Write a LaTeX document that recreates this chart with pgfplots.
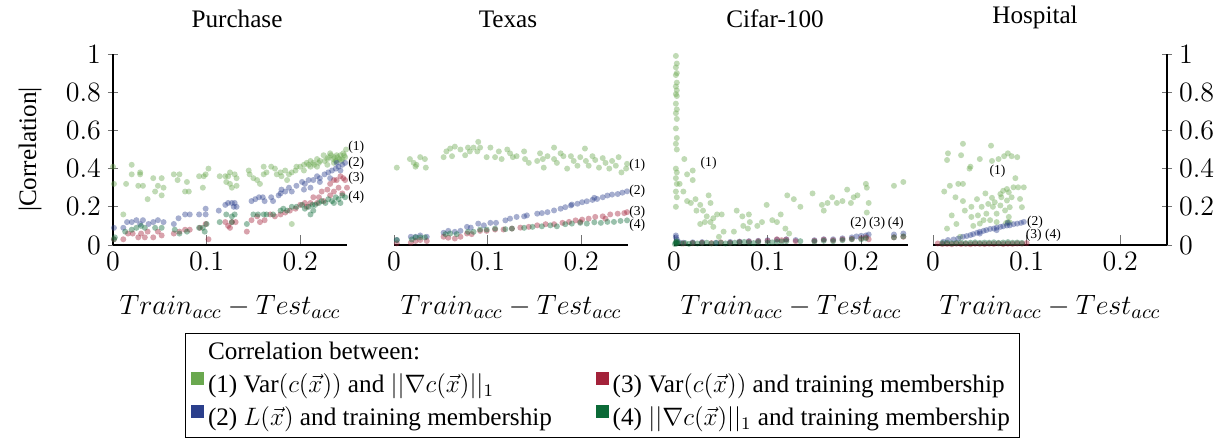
\documentclass[border=0pt]{standalone}
\usepackage{fix-cm}
\usepackage{pgfplots}
\pgfplotsset{compat=1.18}
\usepackage{fontspec}
\setmainfont{Liberation Serif}
\newcommand{\txtsize}{\fontsize{12.6}{15}\selectfont}
\newcommand{\ticksize}{\fontsize{14}{16.5}\selectfont}
\newcommand{\lblsize}{\fontsize{6.8}{8}\selectfont}
\definecolor{cA}{HTML}{6AA84F}
\definecolor{cB}{HTML}{2B3F8C}
\definecolor{cC}{HTML}{A3223A}
\definecolor{cD}{HTML}{0B6A37}
\pgfplotsset{
  dot/.style={only marks, mark=*, mark size=1.5pt, color=#1, mark options={draw opacity=0, line width=0pt, fill=#1, fill opacity=0.42}},
  panel/.style={
    scale only axis, width=117pt, height=95.5pt,
    xmin=0, xmax=0.25, ymin=0, ymax=1,
    xtick={0,0.1,0.2}, ytick={0,0.2,0.4,0.6,0.8,1},
    axis x line=bottom,
    tick align=inside, major tick length=5pt,
    major tick style={black!55, line width=0.4pt},
    tick label style={font=\ticksize},
    clip=false,
    title style={font=\txtsize, at={(axis description cs:0.5,1)}, anchor=base, yshift=7.5pt},
    xlabel={$Train_{acc}-Test_{acc}$},
    xlabel style={font=\ticksize, at={(axis description cs:0.5,0)}, anchor=center, yshift=-31pt},
  },
  noarrow/.style={axis line style={-, black, line width=0.7pt}, x axis line style={-}, y axis line style={-}},
}
\begin{document}
\begin{tikzpicture}
\path[use as bounding box] (0,0) rectangle (611pt,220pt);

% ---------------- Purchase ----------------
\begin{axis}[panel, at={(56.5pt,97.5pt)}, anchor=south west,
  axis y line=left, noarrow, title={Purchase},
  title style={xshift=3.5pt},
  ylabel={|Correlation|},
  ylabel style={font=\txtsize, at={(axis description cs:0,0.5)}, anchor=center, rotate=0, yshift=41.5pt}]
\addplot[dot=cA] coordinates {(0.001,0.32)(0,0.41)(0.011,0.16)(0.014,0.32)(0.02,0.42)(0.02,0.37)(0.029,0.38)(0.029,0.37)(0.027,0.31)(0.032,0.31)(0.037,0.24)(0.043,0.35)(0.045,0.28)(0.048,0.31)(0.052,0.35)(0.054,0.30)(0.052,0.26)(0.065,0.37)(0.071,0.37)(0.069,0.34)(0.077,0.28)(0.081,0.28)(0.079,0.33)(0.092,0.36)(0.097,0.36)(0.099,0.37)(0.102,0.40)(0.096,0.30)(0.114,0.36)(0.12,0.36)(0.123,0.36)(0.125,0.38)(0.13,0.37)(0.121,0.33)(0.125,0.32)(0.127,0.30)(0.132,0.31)(0.132,0.35)(0.145,0.39)(0.146,0.37)(0.15,0.35)(0.154,0.34)(0.157,0.32)(0.161,0.37)(0.161,0.41)(0.164,0.38)(0.169,0.41)(0.173,0.40)(0.175,0.37)(0.179,0.38)(0.18,0.36)(0.184,0.39)(0.188,0.37)(0.191,0.38)(0.195,0.39)(0.196,0.41)(0.2,0.41)(0.204,0.42)(0.207,0.43)(0.211,0.44)(0.214,0.43)(0.218,0.45)(0.221,0.44)(0.225,0.47)(0.229,0.45)(0.232,0.48)(0.236,0.46)(0.239,0.47)(0.243,0.47)(0.246,0.48)(0.249,0.50)(0.248,0.46)(0.236,0.43)(0.229,0.42)(0.239,0.44)(0.245,0.45)(0.218,0.41)(0.211,0.41)(0.204,0.39)(0.186,0.34)(0.191,0.11)(0.23,0.46)(0.235,0.45)(0.24,0.46)(0.242,0.45)(0.238,0.44)(0.244,0.44)(0.233,0.47)(0.247,0.47)(0.226,0.44)(0.22,0.43)(0.215,0.42)(0.209,0.42)};
\addplot[dot=cB] coordinates {(0.001,0.09)(0.011,0.09)(0.015,0.12)(0.02,0.12)(0.025,0.13)(0.029,0.11)(0.032,0.13)(0.038,0.11)(0.043,0.12)(0.048,0.13)(0.054,0.12)(0.065,0.11)(0.07,0.14)(0.077,0.16)(0.082,0.16)(0.092,0.16)(0.099,0.19)(0.099,0.16)(0.113,0.18)(0.12,0.21)(0.123,0.22)(0.127,0.22)(0.13,0.22)(0.132,0.20)(0.129,0.20)(0.148,0.23)(0.152,0.24)(0.156,0.25)(0.16,0.25)(0.162,0.23)(0.169,0.25)(0.177,0.26)(0.18,0.29)(0.184,0.28)(0.188,0.30)(0.191,0.28)(0.196,0.31)(0.202,0.33)(0.205,0.32)(0.209,0.34)(0.214,0.34)(0.218,0.36)(0.221,0.35)(0.226,0.37)(0.23,0.38)(0.234,0.39)(0.238,0.40)(0.241,0.41)(0.245,0.42)(0.248,0.43)(0.239,0.43)(0.243,0.39)(0.232,0.35)(0.221,0.33)(0.211,0.30)(0.204,0.29)(0.179,0.27)(0.171,0.23)};
\addplot[dot=cC] coordinates {(0.001,0.03)(0.011,0.03)(0.016,0.06)(0.021,0.06)(0.027,0.04)(0.03,0.06)(0.034,0.04)(0.037,0.07)(0.043,0.04)(0.048,0.07)(0.052,0.05)(0.065,0.06)(0.071,0.07)(0.077,0.08)(0.082,0.08)(0.093,0.09)(0.099,0.11)(0.102,0.03)(0.12,0.12)(0.123,0.10)(0.127,0.12)(0.131,0.12)(0.125,0.09)(0.143,0.07)(0.148,0.13)(0.154,0.15)(0.157,0.12)(0.162,0.13)(0.168,0.16)(0.173,0.15)(0.179,0.16)(0.184,0.17)(0.189,0.18)(0.195,0.19)(0.2,0.21)(0.205,0.22)(0.211,0.22)(0.214,0.25)(0.22,0.25)(0.223,0.28)(0.229,0.29)(0.232,0.32)(0.236,0.34)(0.239,0.34)(0.243,0.36)(0.246,0.35)(0.248,0.34)(0.241,0.30)(0.236,0.28)(0.232,0.26)(0.245,0.27)(0.225,0.23)(0.218,0.22)(0.207,0.20)(0.25,0.30)};
\addplot[dot=cD] coordinates {(0.001,0.03)(0.002,0.04)(0.013,0.07)(0.02,0.08)(0.025,0.09)(0.03,0.10)(0.034,0.09)(0.045,0.09)(0.052,0.09)(0.066,0.08)(0.071,0.06)(0.079,0.07)(0.092,0.09)(0.096,0.09)(0.098,0.07)(0.1,0.11)(0.114,0.12)(0.121,0.16)(0.127,0.15)(0.13,0.16)(0.127,0.12)(0.143,0.11)(0.15,0.16)(0.155,0.16)(0.161,0.16)(0.164,0.16)(0.171,0.16)(0.179,0.18)(0.182,0.19)(0.186,0.18)(0.191,0.20)(0.196,0.20)(0.202,0.21)(0.205,0.19)(0.209,0.20)(0.213,0.21)(0.216,0.21)(0.22,0.22)(0.223,0.23)(0.227,0.22)(0.23,0.24)(0.234,0.23)(0.238,0.25)(0.241,0.24)(0.245,0.26)(0.248,0.25)(0.214,0.18)(0.236,0.22)(0.243,0.22)(0.211,0.16)};
\node[font=\lblsize, anchor=west, inner sep=0.5pt] at (axis cs:0.25,0.51) {(1)};
\node[font=\lblsize, anchor=west, inner sep=0.5pt] at (axis cs:0.25,0.43) {(2)};
\node[font=\lblsize, anchor=west, inner sep=0.5pt] at (axis cs:0.25,0.35) {(3)};
\node[font=\lblsize, anchor=west, inner sep=0.5pt] at (axis cs:0.25,0.25) {(4)};
\end{axis}

% ---------------- Texas ----------------
\begin{axis}[panel, at={(197pt,97.5pt)}, anchor=south west,
  axis y line=none, noarrow, title={Texas}, title style={xshift=-1.5pt}]
\addplot[dot=cA] coordinates {(0.003,0.405)(0.017,0.45)(0.021,0.43)(0.023,0.41)(0.024,0.42)(0.028,0.46)(0.033,0.45)(0.034,0.405)(0.053,0.46)(0.056,0.49)(0.06,0.505)(0.062,0.465)(0.065,0.515)(0.071,0.50)(0.076,0.47)(0.079,0.51)(0.081,0.49)(0.085,0.51)(0.09,0.54)(0.089,0.49)(0.092,0.51)(0.099,0.46)(0.103,0.51)(0.108,0.46)(0.112,0.49)(0.115,0.45)(0.121,0.50)(0.124,0.48)(0.127,0.46)(0.131,0.465)(0.139,0.49)(0.14,0.45)(0.144,0.43)(0.156,0.48)(0.159,0.45)(0.16,0.405)(0.164,0.465)(0.171,0.45)(0.174,0.43)(0.181,0.465)(0.185,0.40)(0.189,0.465)(0.192,0.44)(0.196,0.415)(0.199,0.46)(0.204,0.505)(0.205,0.44)(0.208,0.415)(0.212,0.465)(0.215,0.445)(0.219,0.405)(0.223,0.455)(0.226,0.43)(0.23,0.40)(0.233,0.44)(0.237,0.415)(0.24,0.46)(0.243,0.38)(0.248,0.40)(0.249,0.425)(0.171,0.51)(0.178,0.48)(0.153,0.44)};
\addplot[dot=cB] coordinates {(0.003,0.026)(0.018,0.043)(0.023,0.043)(0.028,0.05)(0.035,0.043)(0.053,0.064)(0.058,0.074)(0.065,0.069)(0.071,0.074)(0.078,0.095)(0.082,0.091)(0.09,0.112)(0.096,0.103)(0.103,0.116)(0.109,0.116)(0.119,0.129)(0.124,0.138)(0.131,0.147)(0.139,0.15)(0.142,0.155)(0.153,0.164)(0.158,0.167)(0.164,0.172)(0.171,0.181)(0.178,0.19)(0.183,0.198)(0.189,0.207)(0.196,0.216)(0.201,0.224)(0.206,0.229)(0.212,0.236)(0.217,0.241)(0.223,0.25)(0.228,0.259)(0.233,0.264)(0.239,0.267)(0.244,0.274)(0.249,0.281)(0.19,0.212)(0.214,0.247)};
\addplot[dot=cC] coordinates {(0.003,0.009)(0.018,0.012)(0.023,0.021)(0.028,0.026)(0.035,0.021)(0.053,0.043)(0.058,0.038)(0.065,0.034)(0.071,0.043)(0.078,0.06)(0.083,0.057)(0.092,0.074)(0.099,0.074)(0.108,0.081)(0.117,0.081)(0.126,0.086)(0.135,0.091)(0.144,0.095)(0.153,0.103)(0.162,0.109)(0.171,0.109)(0.18,0.116)(0.187,0.121)(0.194,0.129)(0.201,0.133)(0.208,0.138)(0.215,0.147)(0.223,0.15)(0.231,0.16)(0.239,0.164)(0.246,0.167)(0.249,0.172)(0.199,0.121)(0.226,0.138)};
\addplot[dot=cD] coordinates {(0.003,0.026)(0.019,0.029)(0.023,0.04)(0.028,0.04)(0.033,0.04)(0.055,0.057)(0.06,0.06)(0.067,0.057)(0.079,0.069)(0.085,0.069)(0.092,0.081)(0.099,0.081)(0.108,0.086)(0.119,0.083)(0.126,0.086)(0.139,0.09)(0.148,0.095)(0.158,0.098)(0.167,0.103)(0.174,0.098)(0.183,0.109)(0.19,0.112)(0.199,0.116)(0.206,0.112)(0.214,0.119)(0.221,0.116)(0.228,0.121)(0.235,0.121)(0.242,0.126)(0.249,0.129)};
\node[font=\lblsize, anchor=west, inner sep=0.5pt] at (axis cs:0.25,0.42) {(1)};
\node[font=\lblsize, anchor=west, inner sep=0.5pt] at (axis cs:0.25,0.28) {(2)};
\node[font=\lblsize, anchor=west, inner sep=0.5pt] at (axis cs:0.25,0.17) {(3)};
\node[font=\lblsize, anchor=west, inner sep=0.5pt] at (axis cs:0.25,0.105) {(4)};
\end{axis}

% ---------------- Cifar-100 ----------------
\begin{axis}[panel, at={(337pt,97.5pt)}, anchor=south west,
  axis y line=none, noarrow, title={Cifar-100}, title style={xshift=-8pt}]
\addplot[dot=cA] coordinates {(0.002,0.99)(0.003,0.95)(0.002,0.93)(0.003,0.90)(0.002,0.89)(0.003,0.85)(0.002,0.83)(0.003,0.81)(0.002,0.79)(0.003,0.78)(0.002,0.74)(0.003,0.71)(0.002,0.69)(0.003,0.66)(0.002,0.61)(0.003,0.56)(0.002,0.53)(0.003,0.50)(0.002,0.40)(0.003,0.38)(0.002,0.35)(0.003,0.32)(0.002,0.28)(0.003,0.25)(0.002,0.20)(0.011,0.45)(0.02,0.39)(0.014,0.37)(0.02,0.34)(0.006,0.32)(0.01,0.28)(0.014,0.23)(0.018,0.22)(0.023,0.24)(0.024,0.18)(0.028,0.21)(0.031,0.18)(0.037,0.26)(0.039,0.22)(0.035,0.15)(0.028,0.11)(0.033,0.12)(0.039,0.12)(0.042,0.14)(0.046,0.16)(0.051,0.16)(0.042,0.095)(0.053,0.07)(0.048,0.043)(0.064,0.07)(0.073,0.15)(0.079,0.086)(0.074,0.10)(0.081,0.12)(0.089,0.10)(0.094,0.12)(0.099,0.21)(0.105,0.13)(0.11,0.12)(0.114,0.16)(0.119,0.086)(0.123,0.06)(0.121,0.26)(0.128,0.24)(0.135,0.20)(0.148,0.27)(0.158,0.21)(0.16,0.18)(0.164,0.22)(0.169,0.25)(0.174,0.22)(0.18,0.23)(0.185,0.29)(0.189,0.22)(0.192,0.25)(0.196,0.26)(0.205,0.32)(0.206,0.30)(0.208,0.22)(0.206,0.17)(0.235,0.31)(0.245,0.33)(0.067,0.18)(0.08,0.16)};
\addplot[dot=cB] coordinates {(0.002,0.05)(0.002,0.04)(0.003,0.03)(0.005,0.015)(0.01,0.012)(0.02,0.014)(0.03,0.015)(0.045,0.012)(0.06,0.016)(0.07,0.018)(0.08,0.02)(0.09,0.022)(0.1,0.025)(0.11,0.028)(0.12,0.03)(0.13,0.026)(0.15,0.025)(0.16,0.03)(0.17,0.03)(0.18,0.035)(0.19,0.04)(0.195,0.045)(0.2,0.048)(0.205,0.05)(0.208,0.055)(0.235,0.055)(0.245,0.06)};
\addplot[dot=cC] coordinates {(0.003,0.01)(0.01,0.008)(0.02,0.01)(0.03,0.012)(0.04,0.01)(0.05,0.014)(0.06,0.012)(0.07,0.016)(0.08,0.018)(0.09,0.02)(0.1,0.022)(0.11,0.03)(0.115,0.025)(0.12,0.028)(0.13,0.02)(0.15,0.022)(0.16,0.028)(0.17,0.025)(0.18,0.03)(0.19,0.032)(0.2,0.035)(0.205,0.04)(0.208,0.03)(0.235,0.04)(0.245,0.043)};
\addplot[dot=cD] coordinates {(0.001,0.005)(0.002,0.01)(0.002,0.015)(0.003,0.02)(0.003,0.008)(0.004,0.012)(0.008,0.008)(0.012,0.01)(0.016,0.006)(0.02,0.01)(0.025,0.008)(0.03,0.01)(0.035,0.012)(0.04,0.008)(0.045,0.01)(0.05,0.012)(0.055,0.008)(0.06,0.01)(0.065,0.012)(0.07,0.014)(0.075,0.016)(0.08,0.012)(0.085,0.01)(0.09,0.015)(0.1,0.012)(0.105,0.014)(0.11,0.016)(0.115,0.018)(0.12,0.02)(0.135,0.02)(0.15,0.018)(0.16,0.022)(0.17,0.02)(0.18,0.025)(0.19,0.03)(0.2,0.03)(0.205,0.035)(0.235,0.04)(0.245,0.045)};
\node[font=\lblsize, inner sep=0.5pt] at (axis cs:0.037,0.43) {(1)};
\node[font=\lblsize, inner sep=0.5pt] at (axis cs:0.197,0.115) {(2)};
\node[font=\lblsize, inner sep=0.5pt] at (axis cs:0.217,0.115) {(3)};
\node[font=\lblsize, inner sep=0.5pt] at (axis cs:0.237,0.115) {(4)};
\end{axis}

% ---------------- Hospital ----------------
\begin{axis}[panel, at={(466.5pt,97.5pt)}, anchor=south west,
  axis y line=right, noarrow, title={Hospital}, title style={xshift=-7.5pt, yshift=1.5pt}]
\addplot[dot=cA] coordinates {(0.016,0.48)(0.015,0.445)(0.032,0.53)(0.03,0.47)(0.05,0.45)(0.062,0.52)(0.063,0.44)(0.07,0.45)(0.076,0.465)(0.08,0.48)(0.084,0.465)(0.09,0.46)(0.039,0.40)(0.04,0.41)(0.088,0.35)(0.012,0.28)(0.018,0.31)(0.027,0.32)(0.032,0.32)(0.024,0.25)(0.032,0.23)(0.034,0.18)(0.02,0.155)(0.015,0.086)(0.025,0.11)(0.029,0.043)(0.041,0.147)(0.041,0.20)(0.047,0.24)(0.052,0.20)(0.056,0.27)(0.057,0.164)(0.059,0.215)(0.061,0.13)(0.063,0.247)(0.064,0.20)(0.066,0.224)(0.068,0.164)(0.072,0.267)(0.072,0.207)(0.073,0.25)(0.075,0.284)(0.077,0.181)(0.079,0.233)(0.081,0.276)(0.081,0.147)(0.082,0.198)(0.084,0.25)(0.086,0.302)(0.091,0.302)(0.093,0.241)(0.095,0.198)(0.097,0.302)(0.054,0.13)(0.05,0.112)(0.068,0.12)(0.043,0.10)(0.048,0.155)(0.079,0.293)(0.08,0.12)(0.078,0.115)(0.082,0.118)};
\addplot[dot=cB] coordinates {(0.011,0.017)(0.016,0.026)(0.022,0.029)(0.027,0.034)(0.032,0.043)(0.036,0.047)(0.04,0.052)(0.043,0.057)(0.047,0.064)(0.05,0.069)(0.054,0.074)(0.057,0.078)(0.061,0.084)(0.065,0.086)(0.068,0.091)(0.072,0.095)(0.075,0.098)(0.079,0.102)(0.082,0.103)(0.086,0.109)(0.09,0.112)(0.094,0.116)(0.097,0.121)(0.05,0.06)(0.068,0.078)(0.08,0.116)};
\addplot[dot=cC] coordinates {(0.005,0.008)(0.01,0.005)(0.015,0.006)(0.02,0.004)(0.025,0.007)(0.03,0.005)(0.035,0.006)(0.04,0.004)(0.045,0.007)(0.05,0.006)(0.055,0.005)(0.06,0.007)(0.065,0.006)(0.07,0.008)(0.075,0.005)(0.08,0.007)(0.085,0.006)(0.09,0.008)(0.095,0.007)(0.1,0.01)};
\addplot[dot=cD] coordinates {(0.01,0.01)(0.015,0.012)(0.02,0.009)(0.025,0.011)(0.03,0.013)(0.035,0.01)(0.04,0.012)(0.045,0.014)(0.05,0.011)(0.055,0.013)(0.06,0.012)(0.065,0.014)(0.07,0.011)(0.075,0.013)(0.08,0.015)(0.085,0.012)(0.09,0.013)(0.095,0.011)};
\node[font=\lblsize, inner sep=0.5pt] at (axis cs:0.069,0.385) {(1)};
\node[font=\lblsize, inner sep=0.5pt] at (axis cs:0.109,0.12) {(2)};
\node[font=\lblsize, inner sep=0.5pt] at (axis cs:0.118,0.05) {(3) (4)};
\end{axis}

% ---------------- Legend ----------------
\begin{axis}[hide axis, scale only axis, width=117pt, height=95.5pt,
  at={(56.5pt,97.5pt)}, anchor=south west, xmin=0, xmax=1, ymin=0, ymax=1,
  legend columns=2, legend cell align=left,
  legend style={at={(2.092,-0.4607)}, anchor=north, draw=black, font=\txtsize,
    /tikz/every even column/.append style={column sep=20pt},
    /tikz/row sep=1.5pt, inner xsep=3pt, inner ysep=2.5pt}]
\addlegendimage{empty legend}\addlegendentry{Correlation between:}
\addlegendimage{empty legend}\addlegendentry{}
\addlegendimage{legend image code/.code={\fill[cA] (0pt,0pt) rectangle (6pt,6pt);}}
\addlegendentry{(1) Var$(c(\vec{x}))$ and $||\nabla c(\vec{x})||_1$}
\addlegendimage{legend image code/.code={\fill[cC] (0pt,0pt) rectangle (6pt,6pt);}}
\addlegendentry{(3) Var$(c(\vec{x}))$ and training membership}
\addlegendimage{legend image code/.code={\fill[cB] (0pt,0pt) rectangle (6pt,6pt);}}
\addlegendentry{(2) $L(\vec{x})$ and training membership}
\addlegendimage{legend image code/.code={\fill[cD] (0pt,0pt) rectangle (6pt,6pt);}}
\addlegendentry{(4) $||\nabla c(\vec{x})||_1$ and training membership}
\end{axis}
\end{tikzpicture}
\end{document}
